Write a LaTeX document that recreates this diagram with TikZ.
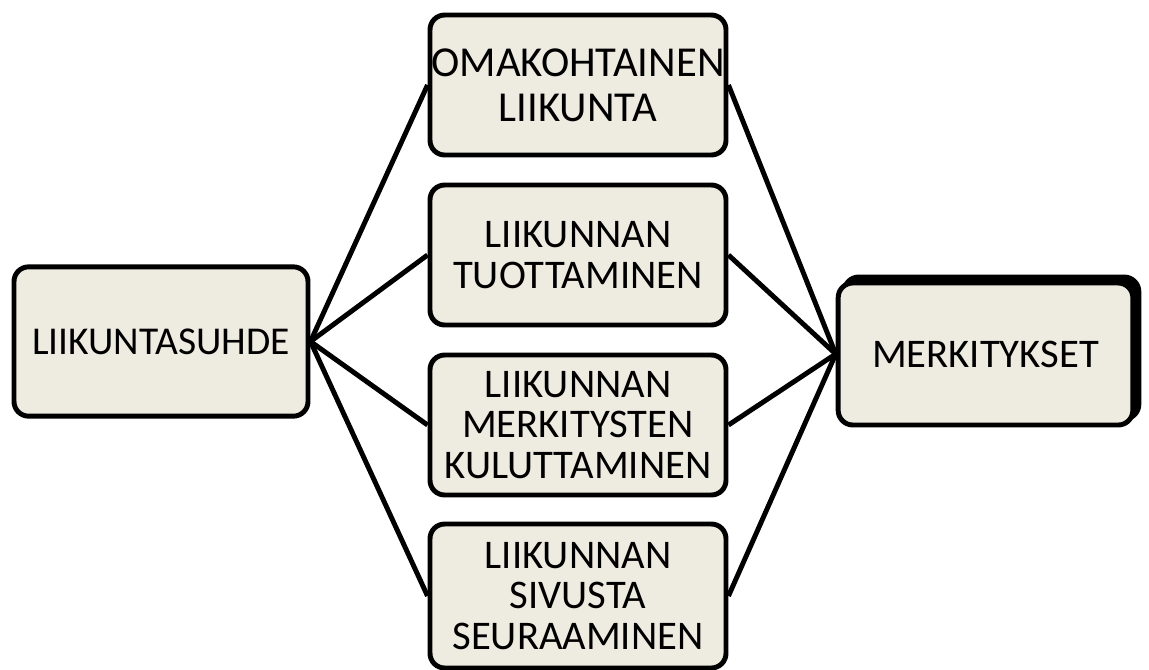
\documentclass[tikz,border=0pt]{standalone}
\usepackage{fontspec}
\setmainfont{Carlito}
\usetikzlibrary{shadows}
\definecolor{boxfill}{HTML}{EEECE1}

\begin{document}
\begin{tikzpicture}[x = 0.75pt, y = -0.75pt, line width = 3.7pt,
        box/.style = {draw, fill = boxfill, rounded corners = 11pt,
            align = center, inner sep = 0pt, minimum width = 222pt,
            minimum height = 105pt,
            font = \fontsize{30.5}{30.5}\selectfont}]
            \useasboundingbox (0,0) rectangle (1149,669);

            \node [box, minimum width = 220.5pt, minimum height = 112pt,
            font = \fontsize{29.6}{30}\selectfont]
            (suhde) at (161, 341.5) {LIIKUNTASUHDE};

            \node [box, font = \fontsize{32}{34}\selectfont] (oma) at (578, 85)
            {OMAKOHTAINEN\\LIIKUNTA};
            \node [box] (tuot) at (578, 255) {LIIKUNNAN\\TUOTTAMINEN};
            \node [box] (kulu) at (578, 425)
            {LIIKUNNAN\\MERKITYSTEN\\KULUTTAMINEN};
            \node [box, minimum height = 108pt] (seur) at (578, 596)
            {LIIKUNNAN\\SIVUSTA\\SEURAAMINEN};

            \node [box, minimum width = 221pt, minimum height = 106.5pt,
            copy shadow = {shadow xshift = 4.5pt, shadow yshift = 4.5pt,
            fill = black}] (merk) at (985.5, 354) {MERKITYKSET};

            \foreach \m in {oma, tuot, kulu, seur} {
                \draw (suhde.east) -- (\m.west);
                \draw (\m.east) -- (merk.west);
            }
        \end{tikzpicture}
\end{document}
